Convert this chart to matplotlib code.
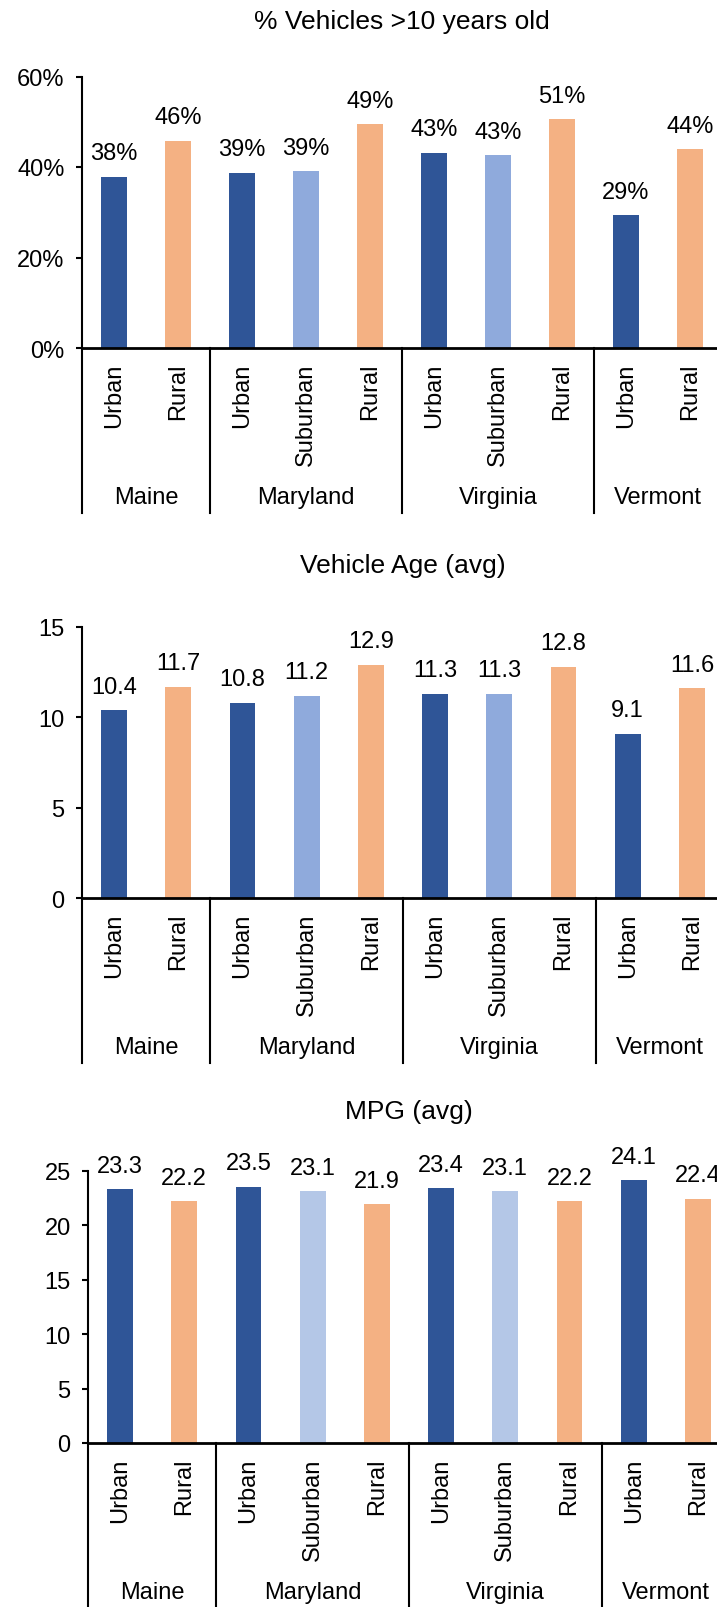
"""Three stacked vehicle-fleet bar charts by state and area type."""

import matplotlib
matplotlib.use("Agg")
import matplotlib.pyplot as plt
import matplotlib.transforms as mtransforms

plt.rcParams["font.family"] = ["Liberation Sans", "DejaVu Sans"]

STATES = ["Maine", "Maryland", "Virginia", "Vermont"]
AREAS = [
    ["Urban", "Rural"],
    ["Urban", "Suburban", "Rural"],
    ["Urban", "Suburban", "Rural"],
    ["Urban", "Rural"],
]
PCT_OLD = [0.378, 0.458, 0.387, 0.391, 0.494, 0.432, 0.426, 0.506, 0.293, 0.439]
AGE_AVG = [10.4, 11.7, 10.8, 11.2, 12.9, 11.3, 11.3, 12.8, 9.1, 11.6]
MPG_AVG = [23.3, 22.2, 23.5, 23.1, 21.9, 23.4, 23.1, 22.2, 24.1, 22.4]

TITLES = ["% Vehicles >10 years old", "Vehicle Age (avg)", "MPG (avg)"]

URBAN = "#2F5597"
RURAL = "#F4B183"
SUBURBAN = ["#8FAADC", "#8FAADC", "#B4C7E7"]

W_PX, H_PX, DPI = 717, 1608, 100
FS = 17

fig = plt.figure(figsize=(W_PX / DPI, H_PX / DPI), dpi=DPI)

# (left, right, zero-line y, top y) in pixels for each panel
layout = [
    (82, 722, 349, 77.5),
    (82, 724, 899, 628),
    (88, 730, 1444, 1171.6),
]
ylims = [(0, 0.6, 0.2), (0, 15, 5), (0, 25, 5)]
title_off = [56, 62, 60]

areas_flat = [a for grp in AREAS for a in grp]


def px2pt(px):
    return px * 72.0 / DPI


def draw_panel(k, values, fmt):
    left, right, zero, top = layout[k]
    ax = fig.add_axes([left / W_PX, 1 - zero / H_PX,
                       (right - left) / W_PX, (zero - top) / H_PX])
    ax_h = zero - top
    n = len(values)
    xs = list(range(n))
    colours = []
    for a in areas_flat:
        colours.append(URBAN if a == "Urban" else RURAL if a == "Rural" else SUBURBAN[k])
    ax.bar(xs, values, width=0.4, color=colours, zorder=2)

    lo, hi, step = ylims[k]
    ax.set_ylim(lo, hi)
    ticks = [lo + i * step for i in range(int(round((hi - lo) / step)) + 1)]
    ax.set_yticks(ticks)
    if k == 0:
        ax.set_yticklabels([f"{t:.0%}" for t in ticks])
    else:
        ax.set_yticklabels([f"{t:g}" for t in ticks])
    ax.set_xlim(-0.5, n - 0.5)
    ax.set_xticks([])

    for s in ["top", "right"]:
        ax.spines[s].set_visible(False)
    ax.spines["left"].set_linewidth(1.5)
    ax.spines["bottom"].set_linewidth(2.0)
    ax.tick_params(axis="y", length=4.5, width=1.5, pad=8, labelsize=FS)

    # value labels
    for x, v in zip(xs, values):
        ax.annotate(fmt(v), xy=(x, v), xytext=(0, 9), textcoords="offset points",
                    ha="center", va="bottom", fontsize=FS)

    # category labels (rotated) and group labels
    for x, a in zip(xs, areas_flat):
        ax.annotate(a, xy=(x, 0), xycoords=("data", "axes fraction"),
                    xytext=(0, -px2pt(15)), textcoords="offset points",
                    rotation=90, ha="center", va="top", fontsize=FS)

    trans = mtransforms.blended_transform_factory(ax.transData, ax.transAxes)
    sep_bottom = -165 / ax_h
    edge = -0.5
    ax.plot([edge, edge], [0, sep_bottom], color="black", lw=1.5,
            transform=trans, clip_on=False)
    for state, grp in zip(STATES, AREAS):
        mid = edge + len(grp) / 2
        ax.annotate(state, xy=(mid, 0), xycoords=("data", "axes fraction"),
                    xytext=(0, -px2pt(149)), textcoords="offset points",
                    ha="center", va="center", fontsize=FS)
        edge += len(grp)
        ax.plot([edge, edge], [0, sep_bottom], color="black", lw=1.5,
                transform=trans, clip_on=False)

    ax.annotate(TITLES[k], xy=(0.5, 1), xycoords="axes fraction",
                xytext=(0, px2pt(title_off[k])), textcoords="offset points",
                ha="center", va="center", fontsize=19)


draw_panel(0, PCT_OLD, lambda v: f"{v:.0%}")
draw_panel(1, AGE_AVG, lambda v: f"{v:.1f}")
draw_panel(2, MPG_AVG, lambda v: f"{v:.1f}")

fig.savefig("out.png", dpi=DPI, facecolor="white")
plt.close(fig)
